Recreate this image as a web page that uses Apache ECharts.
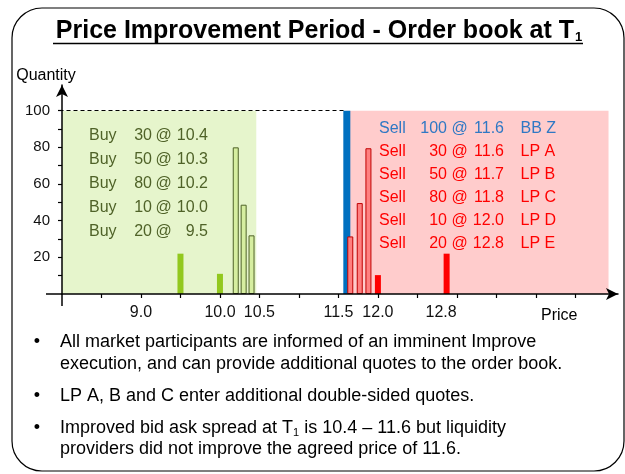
<!DOCTYPE html>
<html>
<head>
<meta charset="utf-8">
<script src="https://cdn.jsdelivr.net/npm/echarts@6/dist/echarts.min.js"></script>
<style>
html, body { margin: 0; padding: 0; background: #fff; }
#chart { width: 625px; height: 474px; }
</style>
</head>
<body>
<div id="chart"></div>
<script>
// bars as drawn on the slide: [price, quantity]
const bidsOld = [[9.5, 22], [10.0, 11]]
const bidsLP = [[10.2, 80], [10.3, 48.7], [10.4, 32]]
const askBBZ = [[11.6, 100]]
const asksLP = [[11.65, 31.4], [11.77, 49.6], [11.88, 79.5]]
const asksOld = [[12.0, 10.3], [12.87, 22]]

// order book text
const buyQty = ['30', '50', '80', '10', '20']
const buyPrice = ['10.4', '10.3', '10.2', '10.0', '9.5']
const sellQty = ['100', '30', '50', '80', '10', '20']
const sellPrice = ['11.6', '11.6', '11.7', '11.8', '12.0', '12.8']
const sellBy = ['BB Z', 'LP A', 'LP B', 'LP C', 'LP D', 'LP E']

// axes
const priceTicks = [8.5, 9, 9.5, 10, 10.5, 11, 11.5, 12, 12.5, 13, 13.5, 14, 14.5]
const priceLabels = [9, 10, 10.5, 11.5, 12, 12.8]
const qtyTicks = [10, 20, 30, 40, 50, 60, 70, 80, 90, 100]
const qtyLabels = [20, 40, 60, 80, 100]
const bidZone = [8, 10.46]
const askZone = [11.6, 14.92]

const bullets = [
	'All market participants are informed of an imminent Improve\nexecution, and can provide additional quotes to the order book.',
	'LP A, B and C enter additional double-sided quotes.',
	'Improved bid ask spread at T{sub|1} is 10.4 \u2013 11.6 but liquidity\nproviders did not improve the agreed price of 11.6.'
]

const FONT = 'Arial, "Liberation Sans", sans-serif'

function barSeries(name, data, color, border, width) {
	return {
		name,
		type: 'bar',
		data,
		barWidth: width,
		barGap: '-100%',
		silent: true,
		itemStyle: {
			color,
			borderColor: border || color,
			borderWidth: border ? 1 : 0
		}
	}
}

function textEl(x, y, text, fill, align, size) {
	return {
		type: 'text', x, y, z: 100, silent: true,
		style: { text, fill, font: `${size || 16}px ${FONT}`, align, verticalAlign: 'middle' }
	}
}

function bookText() {
	const els = []
	buyQty.forEach((q, i) => {
		const y = 136 + 24 * i
		const c = '#4f6228'
		els.push(textEl(89, y, 'Buy', c, 'left'))
		els.push(textEl(152, y, q, c, 'right'))
		els.push(textEl(163.5, y, '@', c, 'center'))
		els.push(textEl(208, y, buyPrice[i], c, 'right'))
	})
	sellQty.forEach((q, i) => {
		const y = 128.5 + 23 * i
		const c = i === 0 ? '#2f78c4' : '#ff0000'
		els.push(textEl(379, y, 'Sell', c, 'left'))
		els.push(textEl(447, y, q, c, 'right'))
		els.push(textEl(459.5, y, '@', c, 'center'))
		els.push(textEl(504, y, sellPrice[i], c, 'right'))
		els.push(textEl(520.5, y, sellBy[i], c, 'left'))
	})
	return els
}

function bulletText() {
	const tops = [331, 385.4, 417.2]
	const lh = [22, 22, 21]
	const els = []
	bullets.forEach((b, i) => {
		els.push(textEl(37, tops[i] + lh[i] / 2, '\u2022', '#000', 'center', 18))
		els.push({
			type: 'text', x: 60, y: tops[i], z: 100, silent: true,
			style: {
				text: b, fill: '#000', font: `18px ${FONT}`, lineHeight: lh[i],
				align: 'left', verticalAlign: 'top',
				rich: { sub: { fontSize: 11, fontFamily: FONT, fill: '#000', verticalAlign: 'bottom', lineHeight: lh[i] } }
			}
		})
	})
	return els
}

const chart = echarts.init(document.getElementById('chart'))
chart.setOption({
	animation: false,
	textStyle: { fontFamily: FONT },
	grid: { left: 62, right: 7, top: 85, bottom: 180 },
	xAxis: {
		type: 'value',
		z: 10,
		min: 8,
		max: 15.04,
		name: 'Price',
		nameLocation: 'end',
		nameGap: -77,
		nameTextStyle: { color: '#000', fontSize: 16, verticalAlign: 'top', lineHeight: 44 },
		axisLine: { symbol: ['none', 'arrow'], symbolSize: [9, 12], lineStyle: { color: '#000', width: 1.5 } },
		axisTick: { customValues: priceTicks, length: 4, lineStyle: { color: '#000', width: 1.2 } },
		axisLabel: { customValues: priceLabels, formatter: v => v.toFixed(1), color: '#111', fontSize: 16, margin: 11 },
		splitLine: { show: false }
	},
	yAxis: {
		type: 'value',
		z: 10,
		min: 0,
		max: 114,
		name: 'Quantity',
		nameLocation: 'end',
		nameGap: 1,
		nameTextStyle: { color: '#000', fontSize: 16, padding: [0, 32, 0, 0] },
		axisLine: { show: true, symbol: ['none', 'arrow'], symbolSize: [9, 12], lineStyle: { color: '#000', width: 1.5 } },
		axisTick: { show: true, customValues: qtyTicks, length: 4, lineStyle: { color: '#000', width: 1.2 } },
		axisLabel: { customValues: qtyLabels, color: '#111', fontSize: 15, margin: 12 },
		splitLine: { show: false }
	},
	series: [
		{
			name: 'zones',
			type: 'bar',
			data: [],
			silent: true,
			markArea: {
				silent: true,
				data: [
					[{ coord: [bidZone[0], 0], itemStyle: { color: '#e6f5cc' } }, { coord: [bidZone[1], 100] }],
					[{ coord: [askZone[0], 0], itemStyle: { color: '#ffcccc' } }, { coord: [askZone[1], 100] }]
				]
			},
			markLine: {
				silent: true,
				symbol: 'none',
				label: { show: false },
				lineStyle: { color: '#000', width: 1, type: [4, 3] },
				data: [[{ coord: [bidZone[0], 100] }, { coord: [askBBZ[0][0], 100] }]]
			}
		},
		barSeries('bids', bidsOld, '#92c81e', null, 6),
		barSeries('LP bids', bidsLP, '#d6eea0', '#4f6228', 6),
		barSeries('BB Z', askBBZ, '#0070c0', null, 7),
		barSeries('LP asks', asksLP, '#ff8080', '#c00000', 6),
		barSeries('asks', asksOld, '#ff0000', null, 6)
	],
	graphic: [
		{
			type: 'rect', silent: true, z: 100,
			shape: { x: 12, y: 8, width: 612, height: 463, r: 30 },
			style: { fill: null, stroke: '#000', lineWidth: 1.2 }
		},
		{
			type: 'text', x: 319, y: 31, z: 100, silent: true,
			style: {
				text: 'Price Improvement Period - Order book at T{s|1}',
				fill: '#000', font: `bold 25px ${FONT}`, align: 'center', verticalAlign: 'middle',
				rich: { s: { fontSize: 13, fontWeight: 'bold', fontFamily: FONT, fill: '#000', verticalAlign: 'bottom', padding: [0, 0, 0, 1] } }
			}
		},
		{ type: 'line', silent: true, z: 100, shape: { x1: 53, y1: 43.5, x2: 583, y2: 43.5 }, style: { stroke: '#000', lineWidth: 1.5 } },
		// axis stubs past the origin
		{ type: 'line', silent: true, z: 100, shape: { x1: 46, y1: 294, x2: 62, y2: 294 }, style: { stroke: '#000', lineWidth: 1.5 } },
		{ type: 'line', silent: true, z: 100, shape: { x1: 62, y1: 294, x2: 62, y2: 306 }, style: { stroke: '#000', lineWidth: 1.5 } },
		...bookText(),
		...bulletText()
	]
})
</script>
</body>
</html>
